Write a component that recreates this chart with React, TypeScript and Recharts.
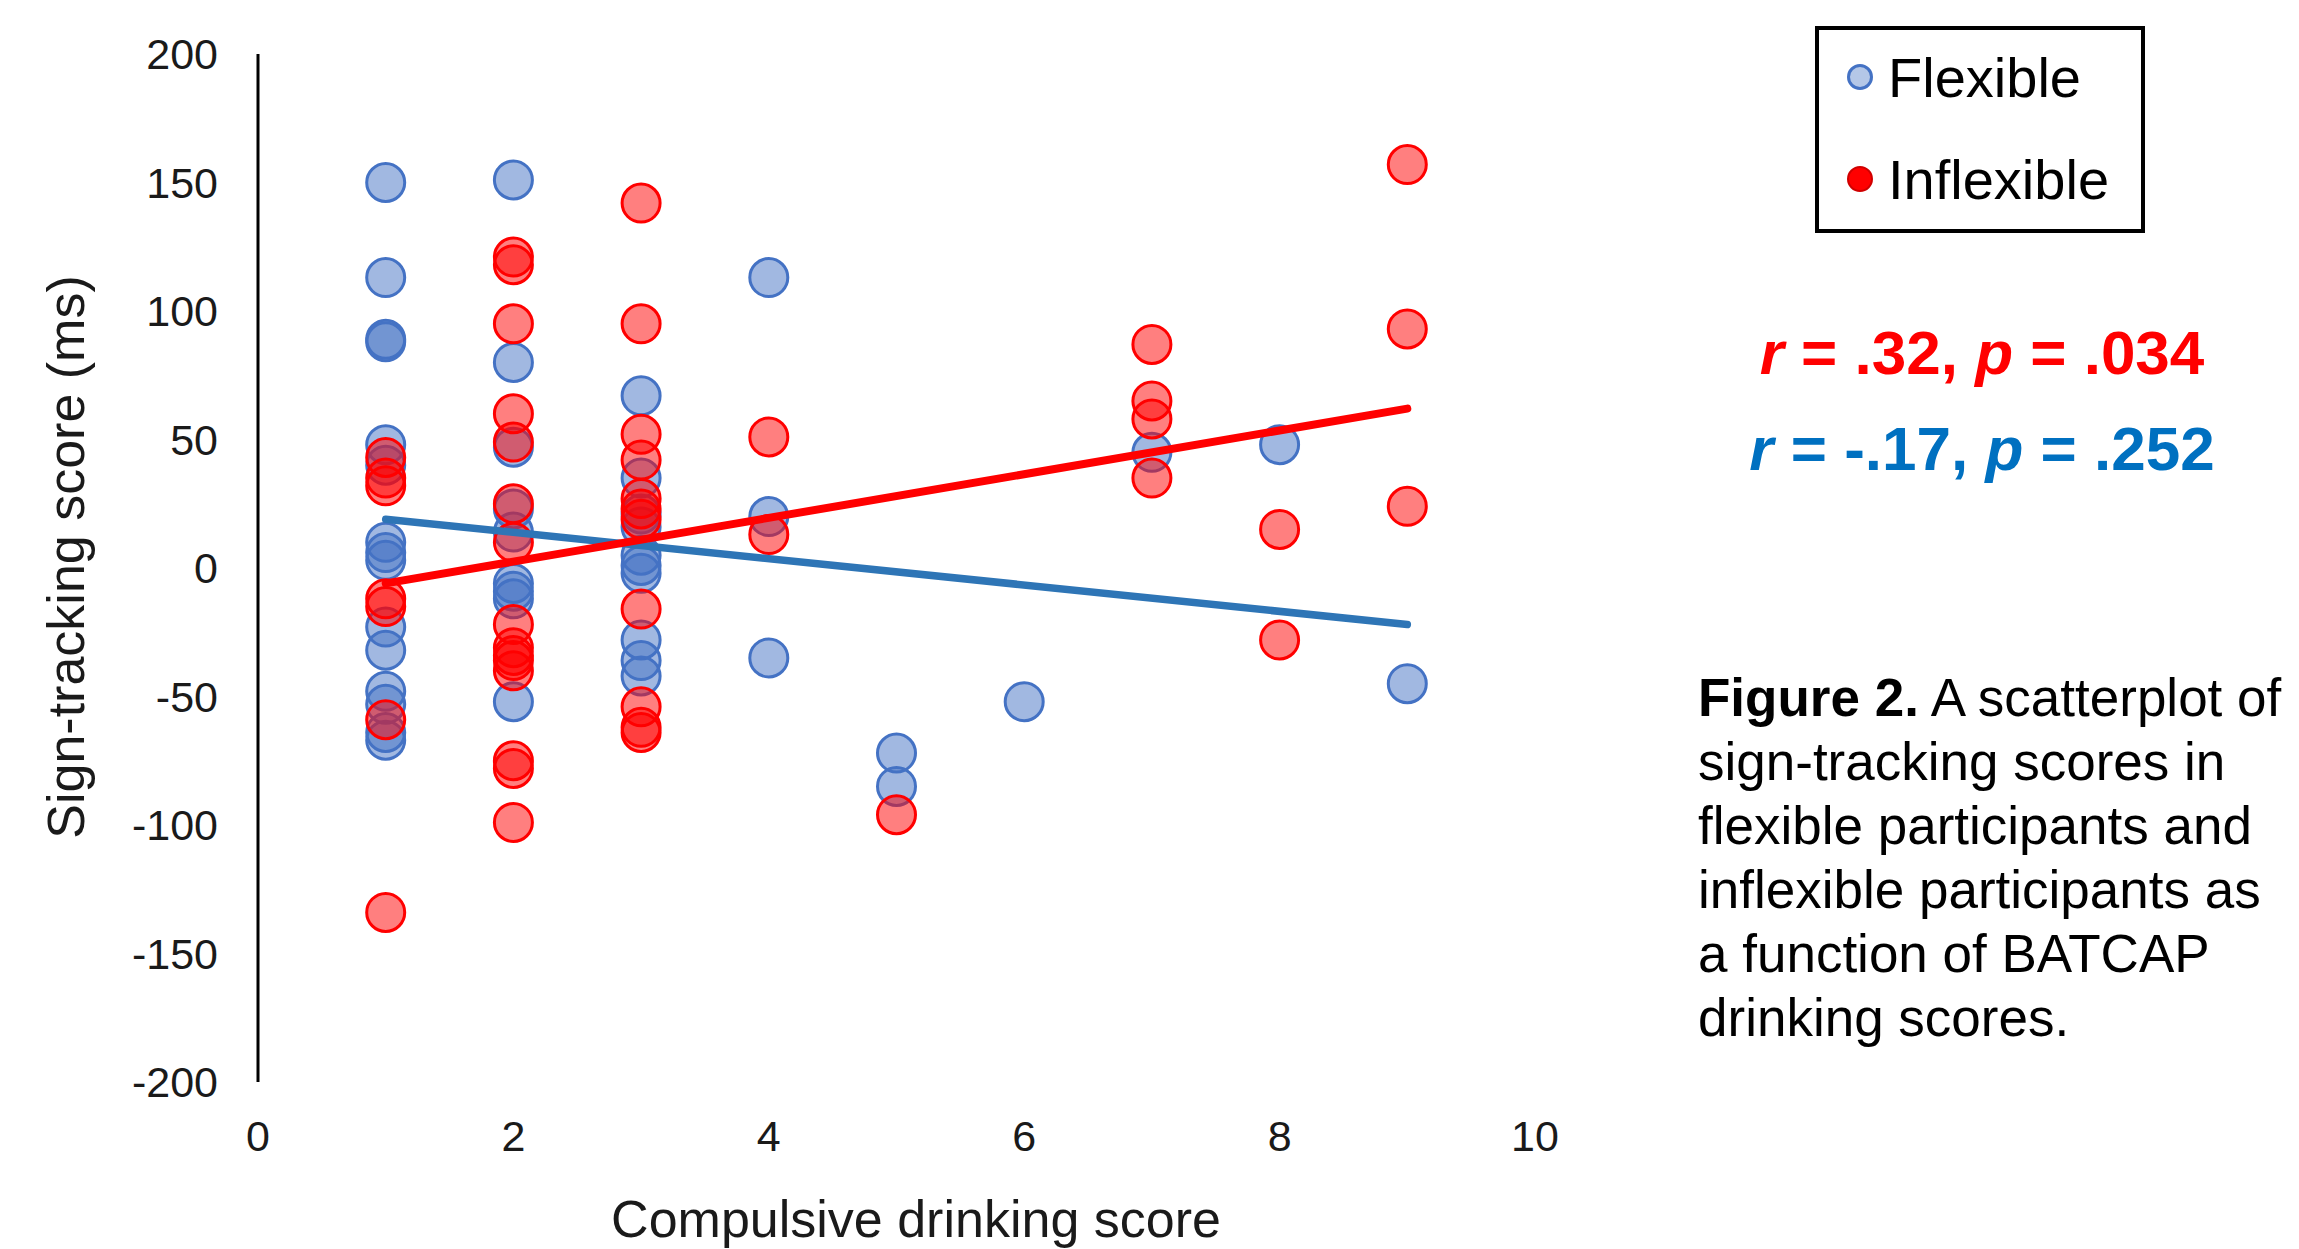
import { ScatterChart, Scatter, XAxis, YAxis, Legend } from "recharts";

const FONT = "'Liberation Sans', Arial, Helvetica, sans-serif";

// compulsive drinking score (x) / sign-tracking score (y)
const flexibleDrinking = [
  1, 1, 1, 1, 1, 1, 1, 1, 1, 1, 1, 1, 1, 1, 1,
  2, 2, 2, 2, 2, 2, 2, 2, 2,
  3, 3, 3, 3, 3, 3, 3, 3, 3, 3,
  4, 4, 4, 5, 5, 6, 7, 8, 9,
];
const flexibleTracking = [
  150, 113, 89, 88, 48, 40, 10, 6, 3, -23, -32, -48, -53, -64, -67,
  151, 80, 47, 23, 14, -6, -9, -12, -52,
  67, 35, 21, 16, 5, 1, -2, -28, -36, -42,
  113, 20, -35, -72, -85, -52, 45, 48, -45,
];

const inflexibleDrinking = [
  1, 1, 1, 1, 1, 1, 1,
  2, 2, 2, 2, 2, 2, 2, 2, 2, 2, 2, 2, 2, 2, 2,
  3, 3, 3, 3, 3, 3, 3, 3, 3, 3, 3,
  4, 4, 5, 7, 7, 7, 7, 8, 8, 9, 9, 9,
];
const inflexibleTracking = [
  43, 35, 32, -12, -15, -59, -134,
  121, 118, 95, 60, 49, 25, 10, -22, -31, -34, -36, -40, -75, -78, -99,
  142, 95, 52, 42, 27, 23, 19, -16, -54, -62, -64,
  51, 13, -96, 87, 65, 58, 35, 15, -28, 157, 93, 24,
];

// linear trend line end points
const trendX = [1, 9];
const inflexibleTrendY = [-6, 62];
const flexibleTrendY = [19, -22];

const xTicks = [0, 2, 4, 6, 8, 10];
const yTicks = [-200, -150, -100, -50, 0, 50, 100, 150, 200];

const toPoints = (xs: number[], ys: number[]) => xs.map((x, i) => ({ x, y: ys[i] }));

const flexibleData = toPoints(flexibleDrinking, flexibleTracking);
const inflexibleData = toPoints(inflexibleDrinking, inflexibleTracking);
const flexibleTrend = toPoints(trendX, flexibleTrendY);
const inflexibleTrend = toPoints(trendX, inflexibleTrendY);

const BLUE = "#4472C4";
const RED = "#FF0000";

const FlexDot = (props: any) => (
  <circle cx={props.cx} cy={props.cy} r={19} fill={BLUE} fillOpacity={0.5} stroke={BLUE} strokeWidth={3} />
);
const InflexDot = (props: any) => (
  <circle cx={props.cx} cy={props.cy} r={19} fill={RED} fillOpacity={0.5} stroke={RED} strokeWidth={3} />
);
const NoDot = () => <g />;

const renderLegend = () => (
  <div
    style={{
      width: 330,
      height: 207,
      boxSizing: "border-box",
      border: "4px solid #000",
      background: "#fff",
      position: "relative",
      fontFamily: FONT,
      fontSize: 56,
      color: "#000",
    }}
  >
    <div style={{ position: "absolute", left: 28, top: 34, width: 26, height: 26, borderRadius: "50%", background: "#B4C7E7", border: `3px solid ${BLUE}`, boxSizing: "border-box" }} />
    <div style={{ position: "absolute", left: 69, top: 16, lineHeight: "64px" }}>Flexible</div>
    <div style={{ position: "absolute", left: 28, top: 136, width: 26, height: 26, borderRadius: "50%", background: RED, border: "2px solid #D00000", boxSizing: "border-box" }} />
    <div style={{ position: "absolute", left: 69, top: 118, lineHeight: "64px" }}>Inflexible</div>
  </div>
);

export default function App() {
  return (
    <div style={{ position: "absolute", left: 0, top: 0, width: 2299, height: 1249, background: "#fff", overflow: "hidden", fontFamily: FONT }}>
      <ScatterChart width={2299} height={1249} margin={{ top: 54, right: 764, bottom: 67, left: 58 }}>
        <XAxis
          type="number"
          dataKey="x"
          domain={[0, 10]}
          ticks={xTicks}
          interval={0}
          axisLine={false}
          tickLine={false}
          tickSize={10}
          tickMargin={28}
          height={100}
          tick={{ fontSize: 43, fill: "#1a1a1a", fontFamily: FONT }}
        />
        <YAxis
          type="number"
          dataKey="y"
          domain={[-200, 200]}
          ticks={yTicks}
          interval={0}
          axisLine={{ stroke: "#000", strokeWidth: 3 }}
          tickLine={false}
          tickSize={10}
          tickMargin={30}
          width={200}
          tick={{ fontSize: 43, fill: "#1a1a1a", fontFamily: FONT }}
        />
        <Legend
          content={renderLegend}
          layout="horizontal"
          verticalAlign="middle"
          align="center"
          wrapperStyle={{ position: "absolute", left: 1815, top: 26, width: 330, height: 207 }}
        />
        <Scatter name="Flexible" data={flexibleData} fill={BLUE} shape={FlexDot} isAnimationActive={false} />
        <Scatter name="Inflexible" data={inflexibleData} fill={RED} shape={InflexDot} isAnimationActive={false} />
        <Scatter
          name="Flexible trend"
          data={flexibleTrend}
          fill="#2E75B6"
          line={{ stroke: "#2E75B6", strokeWidth: 7.5, strokeLinecap: "round" }}
          shape={NoDot}
          legendType="none"
          isAnimationActive={false}
        />
        <Scatter
          name="Inflexible trend"
          data={inflexibleTrend}
          fill={RED}
          line={{ stroke: RED, strokeWidth: 8, strokeLinecap: "round" }}
          shape={NoDot}
          legendType="none"
          isAnimationActive={false}
        />
      </ScatterChart>

      <div style={{ position: "absolute", left: 66, top: 557, transform: "translate(-50%, -50%) rotate(-90deg)", whiteSpace: "nowrap", fontSize: 52, lineHeight: "52px", color: "#1a1a1a" }}>
        Sign-tracking score (ms)
      </div>
      <div style={{ position: "absolute", left: 916, top: 1219, transform: "translate(-50%, -50%)", whiteSpace: "nowrap", fontSize: 52, lineHeight: "52px", color: "#1a1a1a" }}>
        Compulsive drinking score
      </div>

      <div style={{ position: "absolute", left: 1982, top: 353, transform: "translate(-50%, -50%)", whiteSpace: "nowrap", fontSize: 62, lineHeight: "62px", fontWeight: "bold", color: RED }}>
        <i>r</i> = .32, <i>p</i> = .034
      </div>
      <div style={{ position: "absolute", left: 1982, top: 449, transform: "translate(-50%, -50%)", whiteSpace: "nowrap", fontSize: 62, lineHeight: "62px", fontWeight: "bold", color: "#0070C0" }}>
        <i>r</i> = -.17, <i>p</i> = .252
      </div>

      <div style={{ position: "absolute", left: 1698, top: 666, whiteSpace: "nowrap", fontSize: 53, lineHeight: "64px", color: "#000" }}>
        <b>Figure 2.</b> A scatterplot of
        <br />
        sign-tracking scores in
        <br />
        flexible participants and
        <br />
        inflexible participants as
        <br />
        a function of BATCAP
        <br />
        drinking scores.
      </div>
    </div>
  );
}
